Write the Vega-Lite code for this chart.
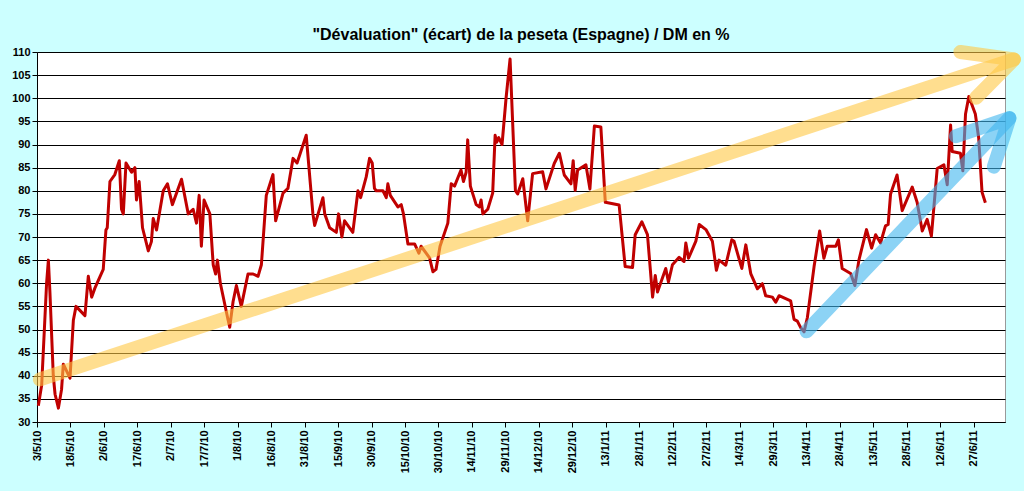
{
  "$schema": "https://vega.github.io/schema/vega-lite/v6.json",
  "autosize": {"type": "fit", "contains": "padding"},
  "width": 1024,
  "height": 491,
  "background": "#CCFFFF",
  "padding": {"left": 11, "right": 2, "top": 27, "bottom": 18},
  "title": {"text": "\"Dévaluation\" (écart) de la peseta (Espagne) / DM en %", "font": "Liberation Sans", "fontSize": 16, "fontWeight": "bold", "color": "black", "offset": 2},
  "config": {
    "view": {"fill": "white", "stroke": "#999999"},
    "axis": {"labelFont": "Liberation Sans", "labelFontWeight": "bold", "labelFontSize": 11, "labelColor": "black", "domainColor": "black", "tickColor": "black", "gridColor": "black", "gridOpacity": 1, "title": null}
  },
  "datasets": {
    "ecart": [
      {"day":0.6,"v":33.5},{"day":2.1,"v":38},{"day":4.3,"v":60},{"day":5.1,"v":65},{"day":5.8,"v":58},{"day":7.3,"v":40},{"day":8.1,"v":36},{"day":9.6,"v":33},{"day":11.0,"v":37},{"day":11.8,"v":42.5},{"day":13.3,"v":41},{"day":14.8,"v":39.5},{"day":16.3,"v":52},{"day":17.5,"v":55},{"day":21.5,"v":53},{"day":23.0,"v":61.5},{"day":24.5,"v":57},{"day":26.0,"v":59},{"day":29.7,"v":63},{"day":30.9,"v":71.5},{"day":31.5,"v":72},{"day":32.7,"v":82},{"day":34.9,"v":83.5},{"day":36.9,"v":86.5},{"day":37.9,"v":76},{"day":38.7,"v":75},{"day":39.9,"v":86},{"day":42.4,"v":84},{"day":43.9,"v":85},{"day":44.6,"v":78},{"day":45.8,"v":82},{"day":47.3,"v":72},{"day":49.9,"v":67},{"day":51.3,"v":69},{"day":52.1,"v":74},{"day":53.6,"v":71.5},{"day":56.6,"v":80},{"day":58.5,"v":81.5},{"day":60.7,"v":77},{"day":64.8,"v":82.5},{"day":67.8,"v":75},{"day":70.0,"v":76},{"day":71.5,"v":73},{"day":72.7,"v":79},{"day":73.7,"v":68},{"day":74.9,"v":78},{"day":77.5,"v":75},{"day":79.0,"v":64},{"day":80.1,"v":62},{"day":80.9,"v":65},{"day":82.2,"v":60},{"day":85.7,"v":52},{"day":86.4,"v":50.5},{"day":87.9,"v":56},{"day":89.4,"v":59.5},{"day":91.6,"v":55},{"day":94.6,"v":62},{"day":96.9,"v":62},{"day":99.1,"v":61.5},{"day":100.6,"v":64},{"day":102.8,"v":79},{"day":105.8,"v":83.5},{"day":107.0,"v":73.5},{"day":110.3,"v":79.5},{"day":112.5,"v":80.5},{"day":114.8,"v":87},{"day":116.6,"v":86},{"day":120.7,"v":92},{"day":123.7,"v":75},{"day":124.5,"v":72.5},{"day":128.2,"v":78.5},{"day":129.0,"v":75},{"day":131.2,"v":72},{"day":134.2,"v":71},{"day":135.2,"v":75},{"day":136.7,"v":70},{"day":137.9,"v":73.5},{"day":141.6,"v":71},{"day":143.9,"v":80},{"day":145.1,"v":78.5},{"day":147.6,"v":83},{"day":149.1,"v":87},{"day":150.3,"v":86},{"day":151.3,"v":80.5},{"day":152.1,"v":80},{"day":155.1,"v":80},{"day":156.6,"v":78.5},{"day":157.3,"v":81.5},{"day":158.4,"v":79},{"day":161.8,"v":76.5},{"day":163.3,"v":77},{"day":164.3,"v":75},{"day":166.3,"v":68.5},{"day":169.3,"v":68.5},{"day":171.2,"v":66.5},{"day":172.2,"v":68},{"day":176.0,"v":65.5},{"day":177.5,"v":62.5},{"day":178.9,"v":63},{"day":180.7,"v":68},{"day":184.2,"v":73},{"day":185.7,"v":81.5},{"day":187.2,"v":81},{"day":190.1,"v":84.5},{"day":191.2,"v":82},{"day":192.4,"v":84},{"day":193.1,"v":91},{"day":194.3,"v":81},{"day":196.9,"v":77},{"day":198.4,"v":76.5},{"day":199.1,"v":78},{"day":199.9,"v":75},{"day":202.1,"v":76},{"day":204.3,"v":79.5},{"day":205.4,"v":92},{"day":206.1,"v":90.5},{"day":207.0,"v":91.5},{"day":208.5,"v":90},{"day":210.3,"v":100},{"day":212.1,"v":108.5},{"day":214.5,"v":80},{"day":215.5,"v":79.3},{"day":217.8,"v":82.6},{"day":220.0,"v":73.5},{"day":222.2,"v":83.7},{"day":226.7,"v":84.1},{"day":228.2,"v":80.4},{"day":231.9,"v":85.9},{"day":234.2,"v":88.1},{"day":236.4,"v":83.4},{"day":239.4,"v":81.5},{"day":240.4,"v":86.5},{"day":241.3,"v":80.1},{"day":242.4,"v":84.5},{"day":246.1,"v":85.6},{"day":247.9,"v":80.4},{"day":249.9,"v":94},{"day":252.8,"v":93.8},{"day":254.8,"v":77.5},{"day":261.0,"v":76.9},{"day":263.7,"v":63.6},{"day":267.0,"v":63.4},{"day":268.2,"v":70.5},{"day":271.2,"v":73.3},{"day":273.7,"v":70.5},{"day":276.0,"v":57},{"day":277.2,"v":61.7},{"day":278.2,"v":58.1},{"day":281.9,"v":63.2},{"day":283.1,"v":60.3},{"day":284.9,"v":64},{"day":287.9,"v":65.6},{"day":290.1,"v":64.7},{"day":290.9,"v":68.7},{"day":292.1,"v":65.4},{"day":295.4,"v":69.1},{"day":296.9,"v":72.7},{"day":299.9,"v":71.6},{"day":302.8,"v":69.1},{"day":304.6,"v":62.8},{"day":305.8,"v":65},{"day":308.8,"v":63.9},{"day":311.5,"v":69.4},{"day":312.5,"v":69.1},{"day":316.0,"v":63.2},{"day":317.8,"v":68.3},{"day":320.0,"v":62.1},{"day":323.0,"v":58.8},{"day":325.2,"v":59.9},{"day":326.7,"v":57.3},{"day":329.7,"v":57},{"day":331.2,"v":55.9},{"day":332.7,"v":57.3},{"day":337.9,"v":56.2},{"day":339.4,"v":52.2},{"day":340.9,"v":51.8},{"day":342.4,"v":50.4},{"day":343.9,"v":49.5},{"day":345.4,"v":52.6},{"day":348.4,"v":63.6},{"day":350.9,"v":71.3},{"day":352.8,"v":65.4},{"day":354.3,"v":68},{"day":358.1,"v":68},{"day":359.3,"v":69.4},{"day":361.0,"v":63.2},{"day":364.8,"v":62.1},{"day":366.7,"v":59.5},{"day":368.5,"v":65},{"day":371.9,"v":71.6},{"day":374.2,"v":67.6},{"day":376.0,"v":70.5},{"day":378.2,"v":68.7},{"day":380.4,"v":72.4},{"day":381.6,"v":72.7},{"day":382.7,"v":79.3},{"day":385.6,"v":83.4},{"day":387.9,"v":75.7},{"day":392.4,"v":80.8},{"day":394.6,"v":77.5},{"day":396.9,"v":71.3},{"day":399.1,"v":73.8},{"day":401.0,"v":70.2},{"day":403.6,"v":84.8},{"day":406.6,"v":85.6},{"day":408.1,"v":81.3},{"day":409.6,"v":94.2},{"day":410.3,"v":88.5},{"day":414.0,"v":88.1},{"day":415.1,"v":84.3},{"day":416.3,"v":96.6},{"day":417.8,"v":100.4},{"day":420.7,"v":96.6},{"day":422.2,"v":91.4},{"day":423.7,"v":79.7},{"day":425.2,"v":77.4}
    ],
    "arrows": [
      {"arrow":"jaune","part":"shaft","o":0,"day":1.3,"v":39.2},{"arrow":"jaune","part":"shaft","o":1,"day":438,"v":108.4},
      {"arrow":"jaune","part":"head","o":0,"day":414,"v":110},{"arrow":"jaune","part":"head","o":1,"day":438,"v":108.4},{"arrow":"jaune","part":"head","o":2,"day":421,"v":100.1},
      {"arrow":"bleu","part":"shaft","o":0,"day":345,"v":49.6},{"arrow":"bleu","part":"shaft","o":1,"day":436,"v":95.7},
      {"arrow":"bleu","part":"head","o":0,"day":412,"v":91.8},{"arrow":"bleu","part":"head","o":1,"day":436,"v":95.7},{"arrow":"bleu","part":"head","o":2,"day":429,"v":85.2}
    ]
  },
  "encoding": {
    "x": {"field": "day", "type": "quantitative",
      "scale": {"domain": [0, 434], "nice": false, "zero": false},
      "axis": {"values": [0,15,30,45,60,75,90,105,120,135,150,165,180,195,210,225,240,255,270,285,300,315,330,345,360,375,390,405,420],
        "labelExpr": "timeFormat(datetime(2010, 4, 3 + datum.value), '%-d/%-m/%y')",
        "labelAngle": -90, "grid": false, "tickSize": 5, "labelPadding": 3}},
    "y": {"field": "v", "type": "quantitative",
      "scale": {"domain": [30, 110], "nice": false, "zero": false},
      "axis": {"values": [30,35,40,45,50,55,60,65,70,75,80,85,90,95,100,105,110], "grid": true, "tickSize": 5}}
  },
  "layer": [
    {"data": {"name": "ecart"}, "mark": {"type": "line", "color": "#C00000", "strokeWidth": 3, "strokeJoin": "round"}},
    {"data": {"name": "arrows"}, "mark": {"type": "line", "strokeWidth": 14, "strokeCap": "round", "strokeJoin": "round", "opacity": 0.6, "clip": false},
      "encoding": {
        "detail": {"field": "part"},
        "order": {"field": "o"},
        "color": {"field": "arrow", "type": "nominal", "scale": {"domain": ["jaune", "bleu"], "range": ["#FFC845", "#3FB6EE"]}, "legend": null}
      }}
  ]
}
